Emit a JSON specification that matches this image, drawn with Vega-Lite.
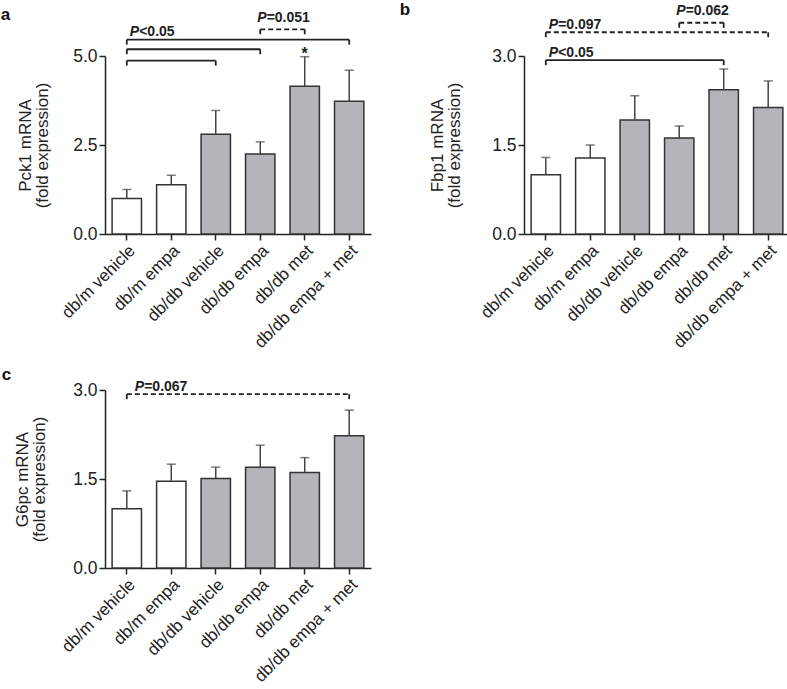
{
  "$schema": "https://vega.github.io/schema/vega-lite/v6.json",
  "padding": {"left": 0, "top": 1, "right": 0, "bottom": 0},
  "datasets": {
    "bars": [
      {"panel": "a", "group": "db/m vehicle", "genotype": "db/m", "mean": 1.0, "err": 1.25},
      {"panel": "a", "group": "db/m empa", "genotype": "db/m", "mean": 1.38, "err": 1.65},
      {"panel": "a", "group": "db/db vehicle", "genotype": "db/db", "mean": 2.8, "err": 3.47},
      {"panel": "a", "group": "db/db empa", "genotype": "db/db", "mean": 2.25, "err": 2.59},
      {"panel": "a", "group": "db/db met", "genotype": "db/db", "mean": 4.15, "err": 4.98, "star": "*"},
      {"panel": "a", "group": "db/db empa + met", "genotype": "db/db", "mean": 3.73, "err": 4.6},
      {"panel": "b", "group": "db/m vehicle", "genotype": "db/m", "mean": 1.0, "err": 1.29},
      {"panel": "b", "group": "db/m empa", "genotype": "db/m", "mean": 1.28, "err": 1.5},
      {"panel": "b", "group": "db/db vehicle", "genotype": "db/db", "mean": 1.92, "err": 2.33},
      {"panel": "b", "group": "db/db empa", "genotype": "db/db", "mean": 1.62, "err": 1.82},
      {"panel": "b", "group": "db/db met", "genotype": "db/db", "mean": 2.43, "err": 2.78},
      {"panel": "b", "group": "db/db empa + met", "genotype": "db/db", "mean": 2.13, "err": 2.58},
      {"panel": "c", "group": "db/m vehicle", "genotype": "db/m", "mean": 1.0, "err": 1.3},
      {"panel": "c", "group": "db/m empa", "genotype": "db/m", "mean": 1.46, "err": 1.75},
      {"panel": "c", "group": "db/db vehicle", "genotype": "db/db", "mean": 1.51, "err": 1.7},
      {"panel": "c", "group": "db/db empa", "genotype": "db/db", "mean": 1.7, "err": 2.07},
      {"panel": "c", "group": "db/db met", "genotype": "db/db", "mean": 1.61, "err": 1.86},
      {"panel": "c", "group": "db/db empa + met", "genotype": "db/db", "mean": 2.23, "err": 2.66}
    ],
    "brackets": [
      {"panel": "a", "from": "db/m vehicle", "to": "db/db empa + met", "level": 5.46, "style": "solid", "anchor": "left", "rest": "<0.05"},
      {"panel": "a", "from": "db/m vehicle", "to": "db/db empa", "level": 5.19, "style": "solid"},
      {"panel": "a", "from": "db/m vehicle", "to": "db/db vehicle", "level": 4.87, "style": "solid"},
      {"panel": "a", "from": "db/db empa", "to": "db/db met", "level": 5.75, "style": "dashed", "anchor": "mid", "rest": "=0.051"},
      {"panel": "b", "from": "db/m vehicle", "to": "db/db met", "level": 2.93, "style": "solid", "anchor": "left", "rest": "<0.05"},
      {"panel": "b", "from": "db/m vehicle", "to": "db/db empa + met", "level": 3.4, "style": "dashed", "anchor": "left", "rest": "=0.097"},
      {"panel": "b", "from": "db/db empa", "to": "db/db met", "level": 3.56, "style": "dashed", "anchor": "mid", "rest": "=0.062"},
      {"panel": "c", "from": "db/m vehicle", "to": "db/db empa + met", "level": 2.93, "style": "dashed", "anchor": "left", "rest": "=0.067"}
    ]
  },
  "columns": 2,
  "bounds": "flush",
  "spacing": {"row": 156, "column": 153},
  "concat": [
    {
      "width": 266,
      "height": 178,
      "title": {"text": "a", "anchor": "start", "frame": "bounds", "fontSize": 17, "fontWeight": "bold", "dx": -16, "dy": 17, "color": "#111"},
      "layer": [
        {
          "data": {"name": "bars"},
          "transform": [{"filter": "datum.panel === 'a'"}],
          "mark": {"type": "bar", "stroke": "#333", "strokeWidth": 1.5},
          "encoding": {
            "x": {"field": "group", "type": "nominal", "scale": {"domain": ["db/m vehicle", "db/m empa", "db/db vehicle", "db/db empa", "db/db met", "db/db empa + met"], "paddingInner": 0.34, "paddingOuter": 0.16}, "axis": {"title": null}},
            "y": {"field": "mean", "type": "quantitative", "scale": {"domain": [0, 5], "nice": false}, "axis": {"values": [0, 2.5, 5], "format": ".1f", "titlePadding": 21, "title": ["Pck1 mRNA", "(fold expression)"]}},
            "fill": {"field": "genotype", "type": "nominal", "scale": {"domain": ["db/m", "db/db"], "range": ["#ffffff", "#b4b5b8"]}, "legend": null}
          }
        },
        {
          "data": {"name": "bars"},
          "transform": [{"filter": "datum.panel === 'a'"}],
          "mark": {"type": "rule", "color": "#444", "strokeWidth": 1.5},
          "encoding": {
            "x": {"field": "group", "type": "nominal"},
            "y": {"field": "mean", "type": "quantitative", "scale": {"domain": [0, 5], "nice": false}},
            "y2": {"field": "err"}
          }
        },
        {
          "data": {"name": "bars"},
          "transform": [{"filter": "datum.panel === 'a'"}],
          "mark": {"type": "tick", "color": "#444", "size": 9, "thickness": 1.5},
          "encoding": {
            "x": {"field": "group", "type": "nominal"},
            "y": {"field": "err", "type": "quantitative", "scale": {"domain": [0, 5], "nice": false}}
          }
        },
        {
          "data": {"name": "bars"},
          "transform": [{"filter": "datum.panel === 'a' && datum.star"}],
          "mark": {"type": "text", "fontSize": 16, "fontWeight": "bold", "baseline": "alphabetic", "dy": 2, "color": "#222"},
          "encoding": {
            "x": {"field": "group", "type": "nominal"},
            "y": {"field": "err", "type": "quantitative", "scale": {"domain": [0, 5], "nice": false}},
            "text": {"field": "star"}
          }
        },
        {
          "data": {"name": "brackets"},
          "transform": [{"filter": "datum.panel === 'a'"}],
          "mark": {"type": "rule", "color": "#222", "strokeWidth": 1.8},
          "encoding": {
            "x": {"field": "from", "type": "nominal"},
            "x2": {"field": "to"},
            "y": {"field": "level", "type": "quantitative", "scale": {"domain": [0, 5], "nice": false}},
            "strokeDash": {"field": "style", "type": "nominal", "scale": {"domain": ["solid", "dashed"], "range": [[1, 0], [5, 3]]}, "legend": null}
          }
        },
        {
          "data": {"name": "brackets"},
          "transform": [{"filter": "datum.panel === 'a'"}],
          "mark": {"type": "rule", "color": "#222", "strokeWidth": 1.8, "y2Offset": 5},
          "encoding": {
            "x": {"field": "from", "type": "nominal"},
            "y": {"field": "level", "type": "quantitative", "scale": {"domain": [0, 5], "nice": false}},
            "y2": {"field": "level"}
          }
        },
        {
          "data": {"name": "brackets"},
          "transform": [{"filter": "datum.panel === 'a'"}],
          "mark": {"type": "rule", "color": "#222", "strokeWidth": 1.8, "y2Offset": 5},
          "encoding": {
            "x": {"field": "to", "type": "nominal"},
            "y": {"field": "level", "type": "quantitative", "scale": {"domain": [0, 5], "nice": false}},
            "y2": {"field": "level"}
          }
        },
        {
          "data": {"name": "brackets"},
          "transform": [{"filter": "datum.panel === 'a' && datum.anchor === 'left'"}],
          "mark": {"type": "text", "text": "P", "fontSize": 14, "fontWeight": "bold", "fontStyle": "italic", "align": "left", "baseline": "alphabetic", "dx": 3, "dy": -3.5, "color": "#222"},
          "encoding": {
            "x": {"field": "from", "type": "nominal"},
            "y": {"field": "level", "type": "quantitative", "scale": {"domain": [0, 5], "nice": false}}
          }
        },
        {
          "data": {"name": "brackets"},
          "transform": [{"filter": "datum.panel === 'a' && datum.anchor === 'left'"}],
          "mark": {"type": "text", "fontSize": 14, "fontWeight": "bold", "align": "left", "baseline": "alphabetic", "dx": 12.4, "dy": -3.5, "color": "#222"},
          "encoding": {
            "x": {"field": "from", "type": "nominal"},
            "y": {"field": "level", "type": "quantitative", "scale": {"domain": [0, 5], "nice": false}},
            "text": {"field": "rest"}
          }
        },
        {
          "data": {"name": "brackets"},
          "transform": [{"filter": "datum.panel === 'a' && datum.anchor === 'mid'"}],
          "mark": {"type": "text", "text": "P", "fontSize": 14, "fontWeight": "bold", "fontStyle": "italic", "align": "left", "baseline": "alphabetic", "dx": -3, "dy": -7.5, "color": "#222"},
          "encoding": {
            "x": {"field": "from", "type": "nominal"},
            "y": {"field": "level", "type": "quantitative", "scale": {"domain": [0, 5], "nice": false}}
          }
        },
        {
          "data": {"name": "brackets"},
          "transform": [{"filter": "datum.panel === 'a' && datum.anchor === 'mid'"}],
          "mark": {"type": "text", "fontSize": 14, "fontWeight": "bold", "align": "left", "baseline": "alphabetic", "dx": 6.4, "dy": -7.5, "color": "#222"},
          "encoding": {
            "x": {"field": "from", "type": "nominal"},
            "y": {"field": "level", "type": "quantitative", "scale": {"domain": [0, 5], "nice": false}},
            "text": {"field": "rest"}
          }
        }
      ]
    },
    {
      "width": 266,
      "height": 178,
      "title": {"text": "b", "anchor": "start", "frame": "bounds", "fontSize": 17, "fontWeight": "bold", "dx": -29, "dy": 19, "color": "#111"},
      "layer": [
        {
          "data": {"name": "bars"},
          "transform": [{"filter": "datum.panel === 'b'"}],
          "mark": {"type": "bar", "stroke": "#333", "strokeWidth": 1.5},
          "encoding": {
            "x": {"field": "group", "type": "nominal", "scale": {"domain": ["db/m vehicle", "db/m empa", "db/db vehicle", "db/db empa", "db/db met", "db/db empa + met"], "paddingInner": 0.34, "paddingOuter": 0.16}, "axis": {"title": null}},
            "y": {"field": "mean", "type": "quantitative", "scale": {"domain": [0, 3], "nice": false}, "axis": {"values": [0, 1.5, 3], "format": ".1f", "titlePadding": 28, "title": ["Fbp1 mRNA", "(fold expression)"]}},
            "fill": {"field": "genotype", "type": "nominal", "scale": {"domain": ["db/m", "db/db"], "range": ["#ffffff", "#b4b5b8"]}, "legend": null}
          }
        },
        {
          "data": {"name": "bars"},
          "transform": [{"filter": "datum.panel === 'b'"}],
          "mark": {"type": "rule", "color": "#444", "strokeWidth": 1.5},
          "encoding": {
            "x": {"field": "group", "type": "nominal"},
            "y": {"field": "mean", "type": "quantitative", "scale": {"domain": [0, 3], "nice": false}},
            "y2": {"field": "err"}
          }
        },
        {
          "data": {"name": "bars"},
          "transform": [{"filter": "datum.panel === 'b'"}],
          "mark": {"type": "tick", "color": "#444", "size": 9, "thickness": 1.5},
          "encoding": {
            "x": {"field": "group", "type": "nominal"},
            "y": {"field": "err", "type": "quantitative", "scale": {"domain": [0, 3], "nice": false}}
          }
        },
        {
          "data": {"name": "brackets"},
          "transform": [{"filter": "datum.panel === 'b'"}],
          "mark": {"type": "rule", "color": "#222", "strokeWidth": 1.8},
          "encoding": {
            "x": {"field": "from", "type": "nominal"},
            "x2": {"field": "to"},
            "y": {"field": "level", "type": "quantitative", "scale": {"domain": [0, 3], "nice": false}},
            "strokeDash": {"field": "style", "type": "nominal", "scale": {"domain": ["solid", "dashed"], "range": [[1, 0], [5, 3]]}, "legend": null}
          }
        },
        {
          "data": {"name": "brackets"},
          "transform": [{"filter": "datum.panel === 'b'"}],
          "mark": {"type": "rule", "color": "#222", "strokeWidth": 1.8, "y2Offset": 5},
          "encoding": {
            "x": {"field": "from", "type": "nominal"},
            "y": {"field": "level", "type": "quantitative", "scale": {"domain": [0, 3], "nice": false}},
            "y2": {"field": "level"}
          }
        },
        {
          "data": {"name": "brackets"},
          "transform": [{"filter": "datum.panel === 'b'"}],
          "mark": {"type": "rule", "color": "#222", "strokeWidth": 1.8, "y2Offset": 5},
          "encoding": {
            "x": {"field": "to", "type": "nominal"},
            "y": {"field": "level", "type": "quantitative", "scale": {"domain": [0, 3], "nice": false}},
            "y2": {"field": "level"}
          }
        },
        {
          "data": {"name": "brackets"},
          "transform": [{"filter": "datum.panel === 'b' && datum.anchor === 'left'"}],
          "mark": {"type": "text", "text": "P", "fontSize": 14, "fontWeight": "bold", "fontStyle": "italic", "align": "left", "baseline": "alphabetic", "dx": 3, "dy": -3.5, "color": "#222"},
          "encoding": {
            "x": {"field": "from", "type": "nominal"},
            "y": {"field": "level", "type": "quantitative", "scale": {"domain": [0, 3], "nice": false}}
          }
        },
        {
          "data": {"name": "brackets"},
          "transform": [{"filter": "datum.panel === 'b' && datum.anchor === 'left'"}],
          "mark": {"type": "text", "fontSize": 14, "fontWeight": "bold", "align": "left", "baseline": "alphabetic", "dx": 12.4, "dy": -3.5, "color": "#222"},
          "encoding": {
            "x": {"field": "from", "type": "nominal"},
            "y": {"field": "level", "type": "quantitative", "scale": {"domain": [0, 3], "nice": false}},
            "text": {"field": "rest"}
          }
        },
        {
          "data": {"name": "brackets"},
          "transform": [{"filter": "datum.panel === 'b' && datum.anchor === 'mid'"}],
          "mark": {"type": "text", "text": "P", "fontSize": 14, "fontWeight": "bold", "fontStyle": "italic", "align": "left", "baseline": "alphabetic", "dx": -3, "dy": -7.5, "color": "#222"},
          "encoding": {
            "x": {"field": "from", "type": "nominal"},
            "y": {"field": "level", "type": "quantitative", "scale": {"domain": [0, 3], "nice": false}}
          }
        },
        {
          "data": {"name": "brackets"},
          "transform": [{"filter": "datum.panel === 'b' && datum.anchor === 'mid'"}],
          "mark": {"type": "text", "fontSize": 14, "fontWeight": "bold", "align": "left", "baseline": "alphabetic", "dx": 6.4, "dy": -7.5, "color": "#222"},
          "encoding": {
            "x": {"field": "from", "type": "nominal"},
            "y": {"field": "level", "type": "quantitative", "scale": {"domain": [0, 3], "nice": false}},
            "text": {"field": "rest"}
          }
        }
      ]
    },
    {
      "width": 266,
      "height": 178,
      "title": {"text": "c", "anchor": "start", "frame": "bounds", "fontSize": 17, "fontWeight": "bold", "dx": -12, "dy": 8, "color": "#111"},
      "layer": [
        {
          "data": {"name": "bars"},
          "transform": [{"filter": "datum.panel === 'c'"}],
          "mark": {"type": "bar", "stroke": "#333", "strokeWidth": 1.5},
          "encoding": {
            "x": {"field": "group", "type": "nominal", "scale": {"domain": ["db/m vehicle", "db/m empa", "db/db vehicle", "db/db empa", "db/db met", "db/db empa + met"], "paddingInner": 0.34, "paddingOuter": 0.16}, "axis": {"title": null}},
            "y": {"field": "mean", "type": "quantitative", "scale": {"domain": [0, 3], "nice": false}, "axis": {"values": [0, 1.5, 3], "format": ".1f", "titlePadding": 24, "title": ["G6pc mRNA", "(fold expression)"]}},
            "fill": {"field": "genotype", "type": "nominal", "scale": {"domain": ["db/m", "db/db"], "range": ["#ffffff", "#b4b5b8"]}, "legend": null}
          }
        },
        {
          "data": {"name": "bars"},
          "transform": [{"filter": "datum.panel === 'c'"}],
          "mark": {"type": "rule", "color": "#444", "strokeWidth": 1.5},
          "encoding": {
            "x": {"field": "group", "type": "nominal"},
            "y": {"field": "mean", "type": "quantitative", "scale": {"domain": [0, 3], "nice": false}},
            "y2": {"field": "err"}
          }
        },
        {
          "data": {"name": "bars"},
          "transform": [{"filter": "datum.panel === 'c'"}],
          "mark": {"type": "tick", "color": "#444", "size": 9, "thickness": 1.5},
          "encoding": {
            "x": {"field": "group", "type": "nominal"},
            "y": {"field": "err", "type": "quantitative", "scale": {"domain": [0, 3], "nice": false}}
          }
        },
        {
          "data": {"name": "brackets"},
          "transform": [{"filter": "datum.panel === 'c'"}],
          "mark": {"type": "rule", "color": "#222", "strokeWidth": 1.8},
          "encoding": {
            "x": {"field": "from", "type": "nominal"},
            "x2": {"field": "to"},
            "y": {"field": "level", "type": "quantitative", "scale": {"domain": [0, 3], "nice": false}},
            "strokeDash": {"field": "style", "type": "nominal", "scale": {"domain": ["solid", "dashed"], "range": [[1, 0], [5, 3]]}, "legend": null}
          }
        },
        {
          "data": {"name": "brackets"},
          "transform": [{"filter": "datum.panel === 'c'"}],
          "mark": {"type": "rule", "color": "#222", "strokeWidth": 1.8, "y2Offset": 5},
          "encoding": {
            "x": {"field": "from", "type": "nominal"},
            "y": {"field": "level", "type": "quantitative", "scale": {"domain": [0, 3], "nice": false}},
            "y2": {"field": "level"}
          }
        },
        {
          "data": {"name": "brackets"},
          "transform": [{"filter": "datum.panel === 'c'"}],
          "mark": {"type": "rule", "color": "#222", "strokeWidth": 1.8, "y2Offset": 5},
          "encoding": {
            "x": {"field": "to", "type": "nominal"},
            "y": {"field": "level", "type": "quantitative", "scale": {"domain": [0, 3], "nice": false}},
            "y2": {"field": "level"}
          }
        },
        {
          "data": {"name": "brackets"},
          "transform": [{"filter": "datum.panel === 'c' && datum.anchor === 'left'"}],
          "mark": {"type": "text", "text": "P", "fontSize": 14, "fontWeight": "bold", "fontStyle": "italic", "align": "left", "baseline": "alphabetic", "dx": 8, "dy": -3.5, "color": "#222"},
          "encoding": {
            "x": {"field": "from", "type": "nominal"},
            "y": {"field": "level", "type": "quantitative", "scale": {"domain": [0, 3], "nice": false}}
          }
        },
        {
          "data": {"name": "brackets"},
          "transform": [{"filter": "datum.panel === 'c' && datum.anchor === 'left'"}],
          "mark": {"type": "text", "fontSize": 14, "fontWeight": "bold", "align": "left", "baseline": "alphabetic", "dx": 17.4, "dy": -3.5, "color": "#222"},
          "encoding": {
            "x": {"field": "from", "type": "nominal"},
            "y": {"field": "level", "type": "quantitative", "scale": {"domain": [0, 3], "nice": false}},
            "text": {"field": "rest"}
          }
        }
      ]
    }
  ],
  "config": {
    "view": {"stroke": null},
    "font": "Liberation Sans",
    "title": {"font": "Liberation Sans"},
    "axis": {
      "grid": false,
      "domainColor": "#222",
      "domainWidth": 1.5,
      "tickColor": "#222",
      "tickWidth": 1.5,
      "tickSize": 6,
      "labelFont": "Liberation Sans",
      "labelFontSize": 17.5,
      "labelColor": "#222",
      "titleFont": "Liberation Sans",
      "titleFontSize": 17,
      "titleLineHeight": 17,
      "titleFontWeight": "normal",
      "titleColor": "#222"
    },
    "axisX": {"labelAngle": -45, "labelPadding": 2, "labelFontSize": 17},
    "axisY": {"labelPadding": 2}
  }
}
